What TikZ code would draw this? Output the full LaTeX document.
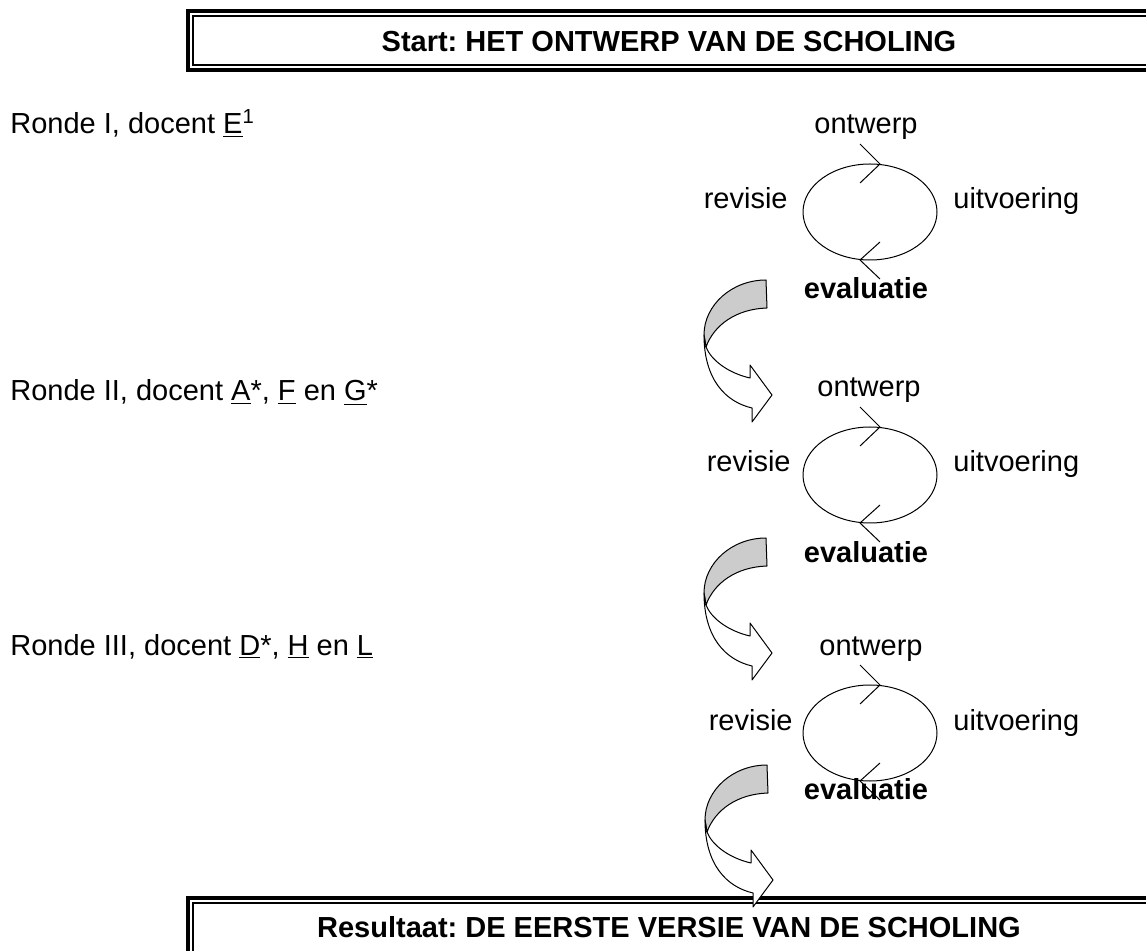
\documentclass[tikz,border=0pt]{standalone}
\usepackage{fontspec}
\setmainfont{Liberation Sans}
\frenchspacing
\usetikzlibrary{positioning}
\tikzset{
    lbl/.style={inner sep=0pt, anchor=base, font=\fontsize{14.5}{17}\selectfont},
    ronde/.style={lbl, anchor=base west},
    kop/.style={lbl, font=\fontsize{14.5}{17}\selectfont\bfseries},
    lus/.style={line width=0.5pt},
    punt/.style={line width=0.5pt},
    band/.style={line width=0.5pt, line join=round}
}
\begin{document}
\begin{tikzpicture}[x=0.5pt, y=-0.5pt]
    \useasboundingbox (0,0) rectangle (1146,951);
    \clip (0,0) rectangle (1146,951);
    % kaders met dubbele rand
    \draw[line width=2pt] (188,11) rectangle (1155,70);
    \draw[line width=1pt] (193,16) rectangle (1150,65);
    \node[kop] (start) at (669,52) {Start: HET ONTWERP VAN DE SCHOLING};
    \draw[line width=2pt] (188,898) rectangle (1155,1000);
    \draw[line width=1pt] (193,903) rectangle (1150,995);
    \node[kop] (result) at (669,937) {Resultaat: DE EERSTE VERSIE VAN DE SCHOLING};
    % rondes
    \node[ronde] (ronde1) at (10,134) {Ronde I, docent \underline{E}\textsuperscript{1}};
    \node[ronde] (ronde2) at (10,401) {Ronde II, docent \underline{A}*, \underline{F} en \underline{G}*};
    \node[ronde] (ronde3) at (10,655) {Ronde III, docent \underline{D}*, \underline{H} en \underline{L}};
    % de cyclus per ronde
    \foreach \i/\cy/\ey/\dx in {1/212/299/0, 2/475/563/3, 3/733/799/5} {
        \coordinate (cyc\i) at (870,\cy);
        \draw[lus] (cyc\i) ellipse [x radius=67, y radius=48];
        \draw[punt] ([shift={(-10,-68)}]cyc\i) -- ([shift={(10,-48)}]cyc\i) -- ([shift={(-10,-29)}]cyc\i);
        \draw[punt] ([shift={(10,30)}]cyc\i) -- ([shift={(-10,48)}]cyc\i) -- ([shift={(10,67)}]cyc\i);
        \node[lbl] (ontwerp\i) at (866+\dx,\cy-78) {ontwerp};
        \node[lbl, anchor=base east] (revisie\i) at (788+\dx,\cy-3) {revisie};
        \node[lbl, anchor=base west] (uitvoering\i) at (953,\cy-3) {uitvoering};
        \node[kop] (evaluatie\i) at (866,\ey) {evaluatie};
    }
    % gebogen pijlen naar de volgende ronde
    \foreach \ax/\ay in {766/280, 766/538, 767/765} {
        \begin{scope}[shift={(\ax,\ay)}]
            \draw[band, fill=black!20] (0,0) .. controls (-34,0) and (-62,25) .. (-62,55)
                -- (-60,67) .. controls (-52,45) and (-30,29) .. (1,28) -- cycle;
            \draw[band, fill=white] (-62,55) .. controls (-62,100) and (-40,122) .. (-14,128)
                -- (-14,142) -- (6,115) -- (-16,85) -- (-16,98)
                .. controls (-38,93) and (-55,80) .. (-60,67) -- cycle;
        \end{scope}
    }
\end{tikzpicture}
\end{document}
